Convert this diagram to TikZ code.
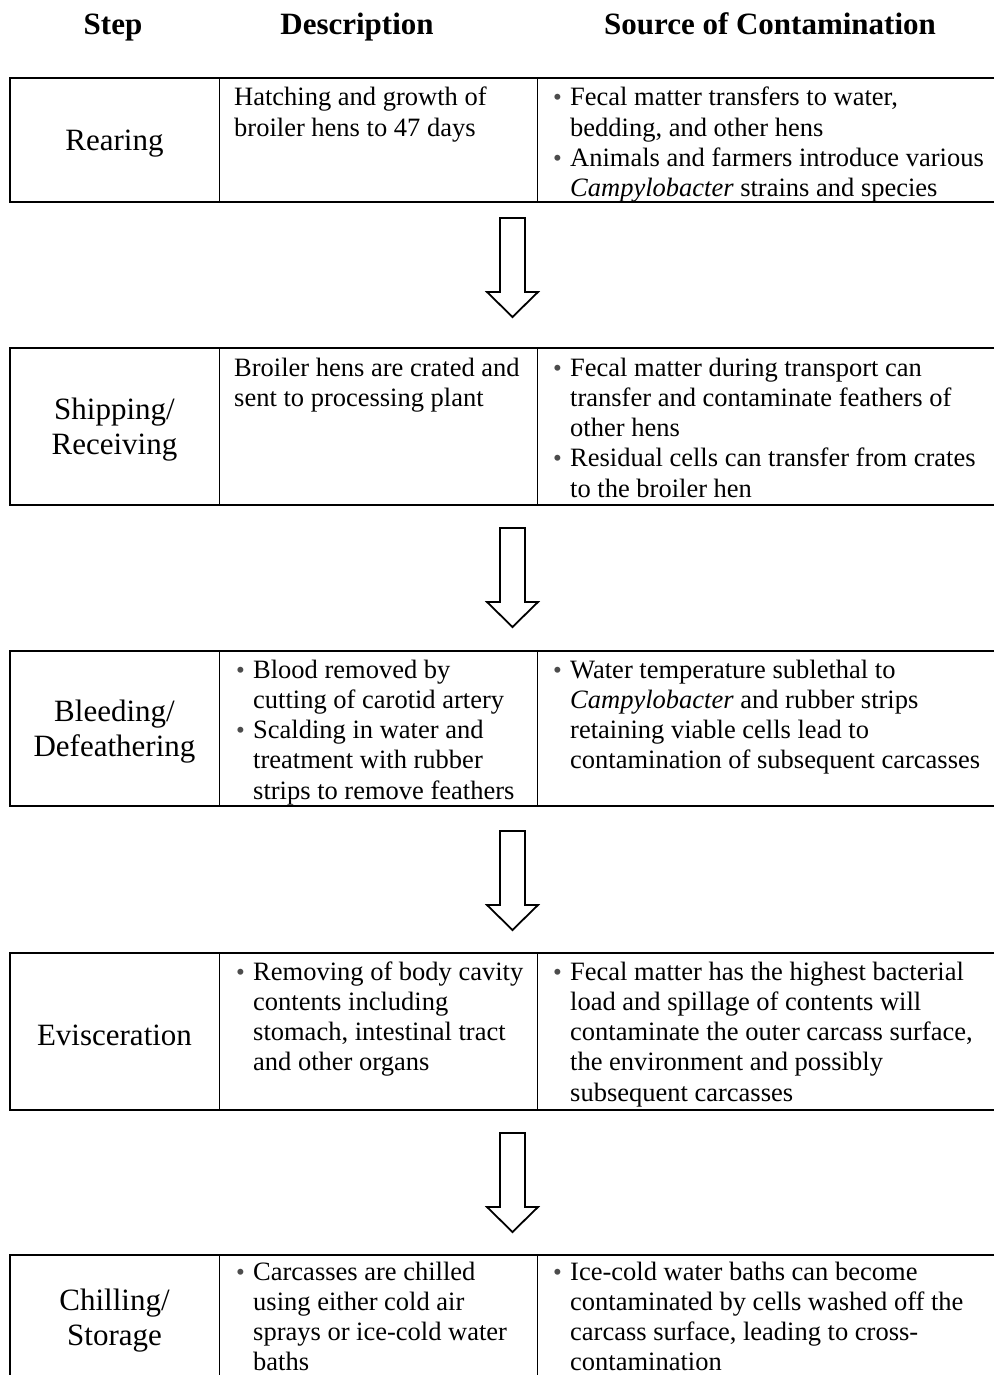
\documentclass[tikz,border=0pt]{standalone}
\usepackage{fontspec}
\setmainfont{Liberation Serif}
\newcommand\cellfont{\fontsize{26.5}{30.3}\selectfont}
\newcommand\cellbox[1]{\begin{minipage}[t]{440pt}\cellfont\parindent=0pt\parskip=0pt #1\end{minipage}}
\newcommand\bitem{\par\noindent\hangindent=17pt\hangafter=1\makebox[17pt][l]{\textcolor{black!70}{\fontsize{25}{30.3}\selectfont•}}}
\newcommand\rowbox[2]{%
  \draw[frame] (994,#1) -- (10,#1) -- (10,#2) -- (994,#2);
  \draw[colsep] (219,#1) -- (219,#2) (537,#1) -- (537,#2);}
\newcommand\flowarrow[1]{%
  \draw[blockarrow] (500,#1) -- (525,#1) -- (525,#1+74) -- (538,#1+74) -- (512.5,#1+99)
    -- (487,#1+74) -- (500,#1+74) -- cycle;}
\begin{document}
\begin{tikzpicture}[x=1pt,y=-1pt,
  frame/.style={line width=1.6pt},
  colsep/.style={line width=1pt},
  blockarrow/.style={line width=1.8pt, fill=white, line join=miter},
  cell/.style={inner sep=0pt, anchor=base west},
  steplabel/.style={inner sep=0pt, align=center, font=\fontsize{31}{35}\selectfont},
  head/.style={inner sep=0pt, anchor=base, font=\fontsize{31}{35}\selectfont\bfseries}]
\useasboundingbox (0,0) rectangle (994,1375);
% headers
\node[head] (h1) at (113,35) {Step};
\node[head] (h2) at (357,35) {Description};
\node[head] (h3) at (770,35) {Source of Contamination};
% row frames
\rowbox{78}{202}
\rowbox{348}{505}
\rowbox{651}{806}
\rowbox{953}{1110}
\draw[frame] (994,1255) -- (10,1255) -- (10,1375);
\draw[colsep] (219,1255) -- (219,1375) (537,1255) -- (537,1375);
% arrows
\flowarrow{218}
\flowarrow{528}
\flowarrow{831}
\flowarrow{1133}
% step labels
\node[steplabel] (s1) at (114.5,144) {Rearing};
\node[steplabel] (s2) at (114.5,430) {Shipping/\\Receiving};
\node[steplabel] (s3) at (114.5,732) {Bleeding/\\Defeathering};
\node[steplabel] (s4) at (114.5,1035) {Evisceration};
\node[steplabel] (s5) at (114.5,1321) {Chilling/\\Storage};
% row 1
\node[cell] (d1) at (234,106) {\cellbox{Hatching and growth of\newline broiler hens to 47 days}};
\node[cell] (c1) at (553,106) {\cellbox{%
  \bitem Fecal matter transfers to water,\newline bedding, and other hens
  \bitem Animals and farmers introduce various\newline \textit{Campylobacter} strains and species}};
% row 2
\node[cell] (d2) at (234,376) {\cellbox{Broiler hens are crated and\newline sent to processing plant}};
\node[cell] (c2) at (553,376) {\cellbox{%
  \bitem Fecal matter during transport can\newline transfer and contaminate feathers of\newline other hens
  \bitem Residual cells can transfer from crates\newline to the broiler hen}};
% row 3
\node[cell] (d3) at (236,678) {\cellbox{%
  \bitem Blood removed by\newline cutting of carotid artery
  \bitem Scalding in water and\newline treatment with rubber\newline strips to remove feathers}};
\node[cell] (c3) at (553,678) {\cellbox{%
  \bitem Water temperature sublethal to\newline \textit{Campylobacter} and rubber strips\newline retaining viable cells lead to\newline contamination of subsequent carcasses}};
% row 4
\node[cell] (d4) at (236,980) {\cellbox{%
  \bitem Removing of body cavity\newline contents including\newline stomach, intestinal tract\newline and other organs}};
\node[cell] (c4) at (553,980) {\cellbox{%
  \bitem Fecal matter has the highest bacterial\newline load and spillage of contents will\newline contaminate the outer carcass surface,\newline the environment and possibly\newline subsequent carcasses}};
% row 5
\node[cell] (d5) at (236,1280) {\cellbox{%
  \bitem Carcasses are chilled\newline using either cold air\newline sprays or ice-cold water\newline baths}};
\node[cell] (c5) at (553,1280) {\cellbox{%
  \bitem Ice-cold water baths can become\newline contaminated by cells washed off the\newline carcass surface, leading to cross-\newline contamination}};
\end{tikzpicture}
\end{document}
